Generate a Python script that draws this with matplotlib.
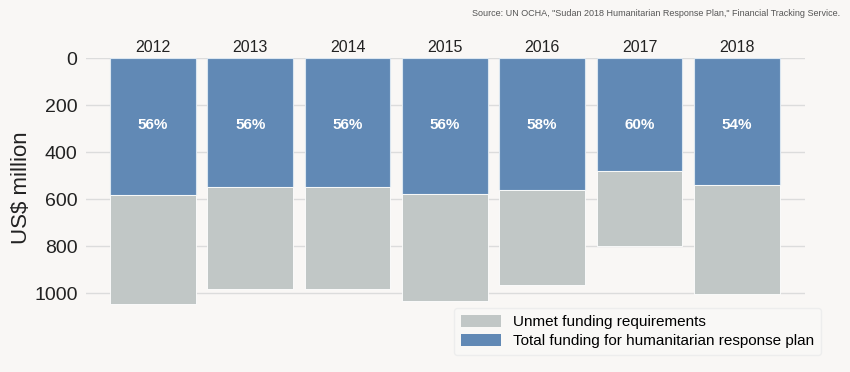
import numpy as np
import matplotlib.pyplot as plt
from matplotlib.patches import Patch

plt.rcParams["font.family"] = ["Liberation Sans", "DejaVu Sans"]

# Data (US$ million)
years = ["2012", "2013", "2014", "2015", "2016", "2017", "2018"]
funded = [584, 548, 548, 579, 562, 479, 540]
requirements = [1048, 981, 981, 1033, 967, 800, 1005]
pct_labels = ["56%", "56%", "56%", "56%", "58%", "60%", "54%"]

blue = "#6189b5"
grey = "#c1c7c6"
bg = "#f9f7f5"

unmet = [r - f for r, f in zip(requirements, funded)]
x = np.arange(len(years))

fig = plt.figure(figsize=(8.5, 3.72), dpi=100, facecolor=bg)
ax = fig.add_axes([0.101, 0.149, 0.846, 0.695], facecolor=bg)

ax.bar(x, funded, width=0.88, color=blue, edgecolor="#dbe6f0", linewidth=0.8, zorder=3)
ax.bar(x, unmet, bottom=funded, width=0.88, color=grey, edgecolor="white", linewidth=0.6, zorder=3)

for xi, lab in zip(x, pct_labels):
    ax.text(xi, 285, lab, ha="center", va="center", color="white",
            fontsize=11, fontweight="bold", zorder=4)

ax.set_xlim(-0.69, 6.70)
ax.set_ylim(1100, 0)
ax.set_yticks([0, 200, 400, 600, 800, 1000])
ax.tick_params(axis="y", labelsize=14, length=0, pad=6, colors="#222222")
ax.xaxis.tick_top()
ax.set_xticks(x)
ax.set_xticklabels(years)
ax.tick_params(axis="x", labelsize=11.5, length=0, pad=2, colors="#222222")
ax.set_ylabel("US$ million", fontsize=16, color="#222222")
ax.yaxis.set_label_coords(-0.075, 0.5)

ax.grid(axis="y", color="#dcdcdc", linewidth=1, zorder=0)
for s in ax.spines.values():
    s.set_visible(False)

handles = [Patch(facecolor=grey, label="Unmet funding requirements"),
           Patch(facecolor=blue, label="Total funding for humanitarian response plan")]
fig.legend(handles=handles, loc="lower right", bbox_to_anchor=(0.975, 0.025),
           fontsize=11, frameon=True, facecolor="#faf9f7", edgecolor="#ebebeb",
           handlelength=2.6, handleheight=0.8, borderpad=0.45, labelspacing=0.3)

fig.text(0.988, 0.963, 'Source: UN OCHA, "Sudan 2018 Humanitarian Response Plan," Financial Tracking Service.',
         ha="right", va="center", fontsize=6.5, color="#555555")

fig.savefig("out.png", dpi=100, facecolor=bg)
